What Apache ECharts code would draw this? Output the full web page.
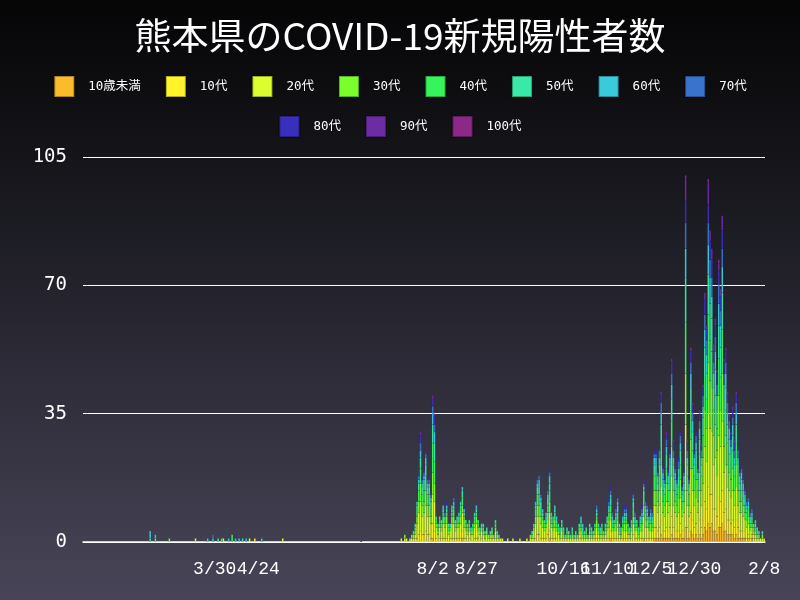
<!DOCTYPE html>
<html><head><meta charset="utf-8">
<script src="https://cdn.jsdelivr.net/npm/echarts@6/dist/echarts.min.js"></script>
<style>html,body{margin:0;padding:0;}#c{width:800px;height:600px;}</style>
</head><body><div id="c"></div>
<script>
const groups = ['10歳未満','10代','20代','30代','40代','50代','60代','70代','80代','90代','100代'];
const colors = ['#fbbc2a','#fff42a','#dcfe2e','#7afe2e','#36f55a','#3ae8a8','#3acadc','#3a73cc','#3a2ebe','#6c2ca4','#8c2888'];
const startDate = '2020-01-15';
const endDate = '2021-02-08';
const windowStart = '2020-07-15';
const labelDates = ['2020-03-30','2020-04-24','2020-08-02','2020-08-27','2020-10-16','2020-11-10','2020-12-05','2020-12-30','2021-02-08'];

const earlyDays = ['2020-02-22','2020-02-25','2020-03-04','2020-03-19','2020-03-26','2020-03-29','2020-04-01','2020-04-03','2020-04-04','2020-04-07','2020-04-09','2020-04-11','2020-04-13','2020-04-15','2020-04-17','2020-04-19','2020-04-22','2020-04-26','2020-05-08','2020-06-22'];
const earlyU10 = [0,0,0,0,0,0,0,0,0,0,0,0,0,0,0,0,0,0,0,0];
const early10s = [0,0,0,0,0,0,0,0,0,0,0,0,0,0,0,0,1,0,0,0];
const early20s = [0,0,0,1,0,0,0,0,1,0,0,0,0,0,0,1,0,0,1,0];
const early30s = [0,0,1,0,0,0,0,0,0,0,0,0,0,0,0,0,0,0,0,0];
const early40s = [0,0,0,0,0,0,0,1,0,0,2,0,0,0,0,0,0,0,0,0];
const early50s = [1,1,0,0,0,0,1,0,0,0,0,0,0,1,0,0,0,0,0,0];
const early60s = [2,1,0,0,1,1,0,0,0,1,0,1,1,0,1,0,0,1,0,0];
const early70s = [0,0,0,0,0,1,0,0,0,0,0,0,0,0,0,0,0,0,0,0];
const early80s = [0,0,0,0,0,0,0,0,0,0,0,1,0,0,0,0,0,0,0,0];
const early90s = [0,0,0,0,0,0,0,0,0,0,0,0,0,0,0,0,0,0,0,1];
const early100s = [0,0,0,0,0,0,0,0,0,0,0,0,0,0,0,0,0,0,0,0];

// daily values from 2020-07-15 to 2021-02-08
const winU10 = [
0,0,0,0,0,0,0,0,0,0, 0,0,0,0,0,0,0,0,1,0, 0,0,0,0,0,0,0,0,0,0, 0,0,0,0,0,1,0,0,0,0,
0,0,0,0,0,0,0,0,0,0, 0,0,0,0,0,0,0,0,0,0, 0,0,0,0,0,0,0,0,0,0, 0,0,0,0,0,0,0,0,0,0,
0,0,0,0,0,1,0,0,0,0, 0,0,0,0,0,0,0,0,0,0, 0,0,0,0,0,0,0,0,0,0, 0,0,0,0,0,0,0,0,0,0,
1,0,0,0,0,0,0,0,0,0, 0,0,0,0,0,0,0,0,0,1, 0,0,0,0,0,1,1,1,1,2, 1,1,1,1,1,2,1,1,1,1,
2,1,1,4,1,1,3,2,1,2, 1,2,1,2,4,3,5,4,5,3, 3,2,4,4,5,3,3,2,2,2, 2,1,2,1,1,1,1,1,0,1,
0,1,0,0,0,0,0,0,0];
const win10s = [
0,0,0,0,0,0,0,0,1,1, 2,3,2,2,3,2,2,1,4,3, 1,0,1,1,1,1,1,0,1,1, 1,1,1,1,1,2,1,1,0,1,
0,0,1,1,1,0,1,0,0,0, 0,0,1,0,1,0,0,0,0,0, 0,0,0,0,0,0,0,0,0,0, 0,0,0,0,0,0,1,1,2,2,
1,1,1,1,2,2,1,1,1,1, 0,0,1,0,0,0,0,0,0,0, 0,0,1,1,0,0,0,0,1,0, 0,1,1,1,0,1,0,1,1,1,
2,1,1,1,1,1,0,1,1,1, 1,0,1,2,1,1,0,1,1,2, 1,1,1,1,1,3,3,2,3,4, 2,2,3,2,3,5,3,2,2,2,
3,2,2,10,3,2,5,4,3,3, 2,4,3,4,7,6,10,9,8,6, 6,5,8,7,9,5,6,4,4,3, 4,3,4,3,2,2,2,2,1,1,
1,1,1,1,0,0,0,0,0];
const win20s = [
1,0,1,1,0,1,1,1,1,4, 6,8,5,6,7,5,5,4,8,8, 3,2,3,2,4,3,4,2,2,4, 4,2,3,3,4,5,3,2,2,2,
2,2,3,4,2,2,2,2,1,2, 1,1,1,1,2,1,1,1,1,0, 0,1,0,0,1,0,0,0,1,0, 0,0,1,0,1,1,2,4,5,5,
4,3,2,3,4,5,3,2,3,2, 2,1,2,1,1,1,1,1,1,1, 1,1,1,2,1,1,1,1,1,1, 1,1,3,1,1,1,1,1,2,3,
3,2,2,2,3,1,1,2,2,2, 1,1,2,3,2,2,1,2,2,4, 3,3,2,2,2,6,6,5,6,9, 5,4,7,5,6,11,6,5,4,5,
7,4,5,18,6,4,12,8,6,7, 5,8,6,10,15,13,20,18,17,12, 14,11,17,15,19,11,12,9,8,7, 8,6,9,6,5,5,4,3,3,3,
2,2,1,1,1,1,1,1,1];
const win30s = [
0,0,1,0,0,0,1,1,1,2, 3,5,3,3,4,3,3,2,6,5, 1,1,1,1,2,1,2,1,1,2, 2,1,1,1,2,2,2,1,1,1,
1,1,1,2,1,1,1,1,1,1, 1,1,1,0,1,1,0,0,0,0, 0,0,0,0,0,0,0,0,0,0, 0,0,0,0,1,1,1,2,3,3,
2,2,1,1,2,3,1,1,2,1, 1,1,1,1,0,1,1,0,1,0, 1,0,1,1,1,1,1,0,1,1, 1,1,2,1,1,1,1,1,1,2,
2,1,1,2,2,1,1,1,2,2, 1,1,1,2,1,1,1,1,2,3, 2,2,1,2,1,4,4,3,4,6, 3,3,5,3,4,8,4,3,3,4,
5,2,3,14,4,3,8,6,4,5, 3,5,4,7,10,9,14,13,12,8, 9,7,11,10,13,7,8,6,5,5, 6,4,6,4,3,3,3,2,2,2,
1,1,1,1,1,1,0,1,0];
const win40s = [
0,0,0,0,0,0,0,1,1,2, 3,4,3,3,4,3,3,2,8,6, 1,1,1,1,1,1,1,1,0,1, 2,1,1,1,2,2,1,1,1,1,
0,1,1,1,1,0,0,1,0,0, 0,0,0,0,1,0,0,0,0,0, 0,0,0,0,0,0,0,0,0,0, 0,0,0,0,0,1,1,2,3,3,
2,1,1,1,2,3,1,1,2,1, 1,1,1,1,0,1,0,0,1,0, 0,0,1,1,1,0,1,0,1,1, 0,1,1,1,1,1,0,1,1,2,
2,1,1,1,2,1,1,1,1,1, 1,1,1,2,1,1,1,1,1,2, 2,1,1,1,1,4,4,3,4,6, 3,3,4,3,4,7,4,3,3,3,
4,2,3,14,4,3,8,5,4,4, 3,5,4,6,9,8,13,11,10,7, 8,6,10,9,12,7,7,6,5,4, 5,4,6,4,3,3,2,2,2,2,
1,1,1,1,1,0,0,0,0];
const win50s = [
0,0,0,0,0,0,0,0,1,1, 2,3,2,3,3,2,2,2,5,5, 1,1,1,1,1,1,1,1,1,1, 1,1,1,1,1,2,1,1,1,1,
1,1,1,1,1,1,1,1,1,1, 0,1,1,1,1,1,1,0,0,0, 0,0,0,0,0,0,0,0,0,0, 0,0,0,0,0,0,0,1,2,2,
2,1,1,1,2,2,1,1,1,1, 1,1,1,1,1,1,1,1,1,1, 1,1,1,1,1,1,1,1,1,1, 1,1,1,1,1,1,1,1,1,1,
2,1,1,1,2,1,1,1,1,1, 1,1,1,2,1,1,1,1,1,2, 1,1,1,1,1,3,3,2,3,5, 3,2,4,2,3,6,3,3,2,3,
4,2,2,12,3,2,6,5,3,4, 3,4,3,5,8,7,11,10,9,6, 7,5,9,8,10,6,6,5,4,3, 4,3,5,3,2,3,2,2,1,1,
1,1,1,1,1,1,0,1,0];
const win60s = [
0,0,0,0,0,0,0,0,0,1, 1,2,1,1,2,1,1,1,3,3, 0,0,0,0,1,0,1,0,0,1, 1,0,0,1,1,1,1,0,0,0,
0,0,1,1,0,0,0,0,0,0, 0,0,0,0,0,0,0,0,0,0, 0,0,0,0,0,0,0,0,0,0, 0,0,0,0,0,0,0,1,1,2,
1,1,0,1,1,2,1,1,1,1, 0,0,0,0,0,0,0,0,0,0, 0,0,0,1,1,0,0,0,0,0, 0,0,1,0,0,0,0,0,1,1,
1,1,0,1,1,0,0,1,1,1, 0,0,0,1,1,0,0,1,1,1, 1,1,1,1,1,2,2,2,2,3, 2,1,2,2,2,4,2,2,1,2,
2,1,2,8,2,1,4,3,2,2, 2,3,2,3,5,5,8,7,6,4, 5,4,6,6,7,4,4,3,3,2, 3,2,3,2,2,2,2,1,1,1,
1,1,0,1,0,0,0,0,0];
const win70s = [
0,0,0,0,0,0,0,0,0,0, 1,2,1,1,1,1,1,1,2,2, 0,0,0,0,0,1,0,0,0,0, 1,0,0,0,0,0,0,0,0,0,
0,0,0,0,0,0,0,0,0,0, 0,0,0,0,0,0,0,0,0,0, 0,0,0,0,0,0,0,0,0,0, 0,0,0,0,0,0,0,0,1,1,
1,0,0,0,1,1,0,0,0,0, 0,0,0,0,0,0,0,0,0,0, 0,0,0,0,0,0,0,0,0,0, 0,0,1,0,0,0,0,0,0,1,
1,1,0,1,1,0,0,0,1,1, 0,0,0,1,1,0,0,0,1,1, 1,1,0,1,1,1,1,1,2,3, 1,1,2,1,1,3,2,1,1,2,
2,1,1,7,2,1,3,2,1,2, 1,2,2,3,4,4,6,5,5,3, 4,3,5,4,5,3,3,3,2,2, 2,2,3,2,1,1,1,1,1,1,
1,1,0,0,0,0,0,0,0];
const win80s = [
0,0,0,0,0,0,0,0,0,0, 1,2,1,1,1,1,1,1,2,2, 0,0,0,0,0,0,1,0,0,0, 0,0,0,0,0,0,1,0,0,0,
0,0,0,0,0,0,0,0,0,0, 0,0,0,0,0,0,0,0,0,0, 0,0,0,0,0,0,0,0,0,0, 0,0,0,0,0,0,0,0,0,0,
0,0,0,0,0,1,0,0,0,0, 0,0,0,0,0,0,0,0,0,0, 0,0,0,0,0,0,0,0,0,0, 0,0,0,0,0,0,0,0,0,1,
1,0,0,1,0,0,0,0,1,1, 0,0,0,1,0,0,0,0,1,1, 0,1,1,0,0,1,1,1,1,2, 1,1,1,1,1,3,2,1,1,1,
1,1,1,6,2,1,3,2,1,1, 1,2,1,2,4,3,5,5,5,3, 3,3,4,4,5,3,3,2,1,1, 2,2,2,1,1,1,1,1,0,0,
0,0,0,0,0,0,0,0,0];
const win90s = [
0,0,0,0,0,0,0,0,0,0, 0,1,0,0,0,0,0,0,1,1, 0,0,0,0,0,0,0,0,0,0, 0,0,0,0,0,0,0,0,0,0,
0,0,0,0,0,0,0,0,0,0, 0,0,0,0,0,0,0,0,0,0, 0,0,0,0,0,0,0,0,0,0, 0,0,0,0,0,0,0,0,0,0,
0,0,0,0,0,0,0,0,0,0, 0,0,0,0,0,0,0,0,0,0, 0,0,0,0,0,0,0,0,0,0, 0,0,0,0,0,0,0,0,0,0,
0,0,0,0,0,0,0,0,0,0, 0,0,0,0,0,0,0,0,0,0, 0,0,0,0,0,0,0,0,0,1, 0,0,1,0,0,1,1,0,0,0,
0,0,0,6,1,0,1,1,0,0, 0,1,1,1,2,1,6,3,3,2, 2,1,2,2,4,1,1,1,1,1, 1,1,1,0,0,0,0,0,0,0,
0,0,0,0,0,0,0,0,0];
const win100s = [
0,0,0,0,0,0,0,0,0,0, 0,0,0,0,0,0,0,0,0,0, 0,0,0,0,0,0,0,0,0,0, 0,0,0,0,0,0,0,0,0,0,
0,0,0,0,0,0,0,0,0,0, 0,0,0,0,0,0,0,0,0,0, 0,0,0,0,0,0,0,0,0,0, 0,0,0,0,0,0,0,0,0,0,
0,0,0,0,0,0,0,0,0,0, 0,0,0,0,0,0,0,0,0,0, 0,0,0,0,0,0,0,0,0,0, 0,0,0,0,0,0,0,0,0,0,
0,0,0,0,0,0,0,0,0,0, 0,0,0,0,0,0,0,0,0,0, 0,0,0,0,0,0,0,0,0,0, 0,0,0,0,0,0,0,0,0,0,
0,0,0,1,0,0,0,0,0,0, 0,0,0,0,0,0,1,0,0,0, 0,0,1,0,0,0,0,0,0,0, 0,0,0,0,0,0,0,0,0,0,
0,0,0,0,0,0,0,0,0];

const earlyAll = [earlyU10,early10s,early20s,early30s,early40s,early50s,early60s,early70s,early80s,early90s,early100s];
const winAll = [winU10,win10s,win20s,win30s,win40s,win50s,win60s,win70s,win80s,win90s,win100s];

function iso(d){return d.toISOString().slice(0,10);}
const dates = [];
for (let d = new Date(startDate+'T00:00:00Z'); iso(d) <= endDate; d.setUTCDate(d.getUTCDate()+1)) dates.push(iso(d));
const wIdx = dates.indexOf(windowStart);

const series = groups.map((g, k) => {
  const arr = new Array(dates.length).fill(0);
  earlyDays.forEach((ds, j) => { const ix = dates.indexOf(ds); if (ix >= 0) arr[ix] += earlyAll[k][j]; });
  winAll[k].forEach((v, j) => { if (wIdx + j < arr.length) arr[wIdx + j] += v; });
  return {
    name: g, type: 'bar', stack: 'total', barCategoryGap: '0%',
    itemStyle: { color: colors[k], borderColor: 'rgba(0,0,0,0.3)', borderWidth: 0.2 },
    data: arr.map(v => v === 0 ? null : v)
  };
});

const legendText = { color: '#ffffff', fontSize: 12.5, fontFamily: 'DejaVu Sans Mono, Noto Sans CJK JP', padding: [0,0,0,9] };
const chart = echarts.init(document.getElementById('c'));
chart.setOption({
  animation: false,
  backgroundColor: { type: 'linear', x: 0, y: 0, x2: 0, y2: 1,
    colorStops: [{ offset: 0, color: '#050506' }, { offset: 0.3, color: '#17171d' }, { offset: 1, color: '#484558' }] },
  color: colors,
  title: { text: '熊本県のCOVID-19新規陽性者数', left: 'center', top: 12,
    textStyle: { color: '#ffffff', fontSize: 37, fontWeight: 'normal', fontFamily: 'Noto Sans CJK JP' } },
  legend: [
    { top: 70, left: 'center', itemWidth: 20, itemHeight: 21, itemGap: 24, icon: 'rect',
      data: groups.slice(0, 8), textStyle: legendText },
    { top: 110, left: 'center', itemWidth: 20, itemHeight: 21, itemGap: 24, icon: 'rect',
      data: groups.slice(8), textStyle: legendText }
  ],
  grid: { left: 83, right: 35, top: 157, bottom: 58, containLabel: false },
  xAxis: { type: 'category', data: dates,
    axisLine: { lineStyle: { color: '#ffffff', width: 1.5 } },
    axisTick: { show: false },
    axisLabel: { color: '#ffffff', fontSize: 18, fontFamily: 'Liberation Mono', margin: 18,
      hideOverlap: false,
      interval: (i, v) => labelDates.indexOf(v) >= 0,
      formatter: v => { const p = v.split('-'); return (+p[1]) + '/' + (+p[2]); } } },
  yAxis: { type: 'value', min: 0, max: 105, interval: 35,
    axisLine: { show: false }, axisTick: { show: false },
    splitLine: { lineStyle: { color: '#ffffff', width: 1.2 } },
    axisLabel: { color: '#ffffff', fontSize: 19, fontFamily: 'DejaVu Sans Mono', margin: 16 } },
  series: series
});
</script></body></html>
